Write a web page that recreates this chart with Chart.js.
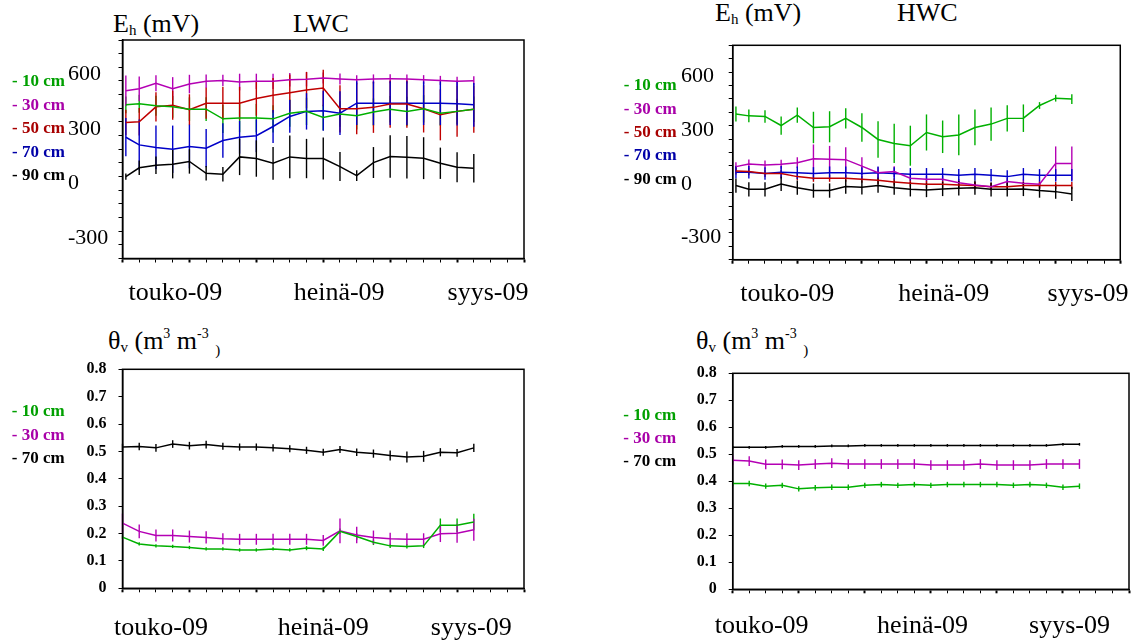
<!DOCTYPE html>
<html>
<head>
<meta charset="utf-8">
<script src="https://cdn.jsdelivr.net/npm/chart.js@4.4.0/dist/chart.umd.min.js"></script>
<style>
  body { margin: 0; background: #fff; width: 1144px; height: 642px; overflow: hidden; position: relative; font-family: "Liberation Serif", "Times New Roman", serif; }
  canvas { position: absolute; }
  .ttl { position: absolute; font-family: "Liberation Serif", serif; font-size: 26px; line-height: 26px; color: #000; white-space: nowrap; }
  .ttl sub { font-size: 15px; vertical-align: -3px; line-height: 0; }
  .ttl sup { font-size: 14px; vertical-align: 11px; line-height: 0; }
  .ttl .paren { font-size: 15px; vertical-align: -6px; }
</style>
</head>
<body>
<div class="ttl" style="left:113px; top:11px">E<sub>h</sub> (mV)</div>
<div class="ttl" style="left:293px; top:11px">LWC</div>
<div class="ttl" style="left:715px; top:0px">E<sub>h</sub> (mV)</div>
<div class="ttl" style="left:897px; top:0px">HWC</div>
<div class="ttl" style="left:108px; top:328px">θ<sub>v</sub> (m<sup>3</sup> m<sup>-3</sup> <span class="paren">)</span></div>
<div class="ttl" style="left:696px; top:328px">θ<sub>v</sub> (m<sup>3</sup> m<sup>-3</sup> <span class="paren">)</span></div>

<canvas id="tl" style="left:-3px; top:0px" width="563" height="320"></canvas>
<canvas id="tr" style="left:609px; top:0px" width="535" height="320"></canvas>
<canvas id="bl" style="left:-3px; top:330px" width="563" height="312"></canvas>
<canvas id="br" style="left:609px; top:330px" width="535" height="312"></canvas>

<script>
// sampling weeks (x axis runs 0..24 weeks, a long tick every 4 weeks)
const weeksEh = [0.2, 1, 2, 3, 4, 5, 6, 7, 8, 9, 10, 11, 12, 13, 14, 15, 16, 17, 18, 19, 20, 21];
const weeksTheta = [0, 1, 2, 3, 4, 5, 6, 7, 8, 9, 10, 11, 12, 13, 14, 15, 16, 17, 18, 19, 20, 21];
const monthLabels = ['touko-09', 'heinä-09', 'syys-09'];
const ehTickLabels = [600, 300, 0, -300];
const depthsEh = ['- 10 cm', '- 30 cm', '- 50 cm', '- 70 cm', '- 90 cm'];
const depthsTheta = ['- 10 cm', '- 30 cm', '- 70 cm'];

// Eh (mV), LWC
const lwc10 = [394, 400, 389, 383, 370, 370, 317, 321, 321, 317, 348, 358, 325, 343, 334, 354, 370, 358, 372, 348, 358, 370];
const lwc30 = [471, 482, 512, 482, 508, 523, 528, 519, 523, 523, 532, 534, 541, 536, 532, 536, 537, 536, 532, 528, 523, 526];
const lwc50 = [297, 301, 383, 392, 367, 403, 403, 403, 429, 446, 460, 475, 486, 372, 372, 380, 398, 398, 372, 339, 358, 370];
const lwc70 = [216, 174, 160, 150, 165, 156, 198, 216, 224, 275, 330, 358, 361, 348, 403, 403, 403, 403, 403, 403, 400, 394];
const lwc90 = [0, 48, 62, 68, 83, 18, 13, 108, 99, 73, 108, 99, 99, 55, 5, 77, 110, 106, 101, 73, 51, 46];
const lwc10Err = [46, 50, 55, 60, 65, 65, 78, 78, 78, 75, 75, 75, 70, 70, 75, 75, 73, 80, 75, 70, 70, 70];
const lwc30Err = [84, 68, 44, 64, 51, 37, 31, 46, 42, 42, 37, 39, 30, 30, 25, 25, 25, 25, 25, 25, 25, 25];
const lwc50Err = [70, 75, 80, 80, 85, 85, 90, 90, 95, 95, 100, 100, 100, 130, 140, 140, 130, 130, 130, 140, 140, 130];
const lwc70Err = [105, 140, 120, 130, 120, 105, 95, 90, 90, 90, 90, 100, 110, 120, 120, 120, 120, 120, 120, 120, 120, 120];
const lwc90Err = [17, 40, 48, 78, 67, 40, 40, 100, 100, 90, 117, 108, 115, 80, 30, 85, 117, 117, 115, 86, 82, 78];

// Eh (mV), HWC
const hwc10 = [365, 355, 352, 301, 359, 290, 294, 341, 290, 223, 201, 188, 262, 238, 248, 290, 309, 341, 342, 413, 454, 449];
const hwc30 = [71, 86, 80, 84, 93, 115, 112, 110, 74, 37, 43, 6, 0, 0, -19, -32, -41, -13, -22, -28, 89, 89];
const hwc50 = [47, 43, 33, 33, 15, 6, 6, 6, 0, -6, -15, -22, -28, -28, -32, -35, -41, -41, -35, -35, -35, -35];
const hwc70 = [39, 39, 33, 39, 37, 33, 37, 37, 33, 37, 33, 28, 28, 28, 22, 28, 22, 15, 28, 22, 22, 22];
const hwc90 = [-35, -56, -56, -26, -47, -63, -63, -41, -45, -35, -47, -56, -60, -54, -50, -47, -56, -56, -54, -63, -69, -82];
const hwc10Err = [42, 35, 35, 51, 43, 88, 87, 56, 80, 102, 110, 112, 101, 91, 114, 100, 93, 74, 77, 19, 19, 27];
const hwc30Err = [25, 25, 25, 25, 30, 80, 75, 70, 50, 30, 30, 25, 20, 20, 20, 20, 20, 20, 20, 20, 95, 95];
const hwc50Err = [20, 20, 20, 20, 20, 20, 20, 20, 20, 20, 20, 20, 20, 20, 20, 20, 20, 20, 20, 20, 20, 20];
const hwc70Err = [35, 35, 35, 35, 35, 35, 35, 35, 35, 35, 35, 35, 35, 35, 35, 35, 35, 35, 35, 35, 35, 35];
const hwc90Err = [40, 40, 40, 40, 40, 40, 40, 40, 40, 40, 40, 40, 40, 40, 40, 40, 40, 40, 40, 40, 40, 40];

// θv (m3 m-3), LWC
const thLwc10 = [0.187, 0.162, 0.155, 0.153, 0.149, 0.144, 0.144, 0.140, 0.140, 0.144, 0.140, 0.147, 0.144, 0.208, 0.189, 0.168, 0.155, 0.153, 0.155, 0.230, 0.230, 0.242];
const thLwc30 = [0.238, 0.208, 0.193, 0.193, 0.189, 0.186, 0.181, 0.179, 0.179, 0.179, 0.179, 0.179, 0.175, 0.210, 0.195, 0.186, 0.181, 0.179, 0.179, 0.199, 0.201, 0.214];
const thLwc70 = [0.516, 0.518, 0.513, 0.527, 0.521, 0.525, 0.519, 0.516, 0.516, 0.513, 0.510, 0.504, 0.497, 0.507, 0.497, 0.492, 0.485, 0.480, 0.482, 0.497, 0.495, 0.513];
const thLwc10Err = [0.006, 0.006, 0.006, 0.006, 0.006, 0.006, 0.006, 0.006, 0.006, 0.006, 0.006, 0.008, 0.008, 0.01, 0.012, 0.01, 0.008, 0.008, 0.008, 0.025, 0.025, 0.03];
const thLwc30Err = [0.035, 0.025, 0.022, 0.022, 0.022, 0.022, 0.02, 0.02, 0.02, 0.02, 0.02, 0.02, 0.02, 0.045, 0.03, 0.025, 0.022, 0.022, 0.022, 0.03, 0.035, 0.04];
const thLwc70Err = [0.012, 0.014, 0.014, 0.014, 0.014, 0.014, 0.013, 0.013, 0.013, 0.013, 0.013, 0.013, 0.013, 0.013, 0.014, 0.015, 0.018, 0.02, 0.02, 0.015, 0.014, 0.015];

// θv (m3 m-3), HWC
const thHwc10 = [0.392, 0.392, 0.382, 0.385, 0.372, 0.376, 0.378, 0.378, 0.385, 0.388, 0.385, 0.388, 0.385, 0.388, 0.388, 0.388, 0.388, 0.385, 0.388, 0.385, 0.378, 0.382];
const thHwc30 = [0.478, 0.475, 0.463, 0.463, 0.460, 0.464, 0.467, 0.464, 0.464, 0.464, 0.464, 0.464, 0.460, 0.460, 0.460, 0.464, 0.460, 0.460, 0.460, 0.464, 0.464, 0.464];
const thHwc70 = [0.526, 0.526, 0.526, 0.529, 0.529, 0.529, 0.531, 0.531, 0.533, 0.533, 0.533, 0.533, 0.533, 0.533, 0.533, 0.533, 0.533, 0.533, 0.533, 0.533, 0.537, 0.537];
const thHwc10Err = [0.01, 0.01, 0.01, 0.01, 0.01, 0.01, 0.01, 0.01, 0.01, 0.01, 0.01, 0.01, 0.01, 0.01, 0.01, 0.01, 0.01, 0.01, 0.01, 0.01, 0.01, 0.01];
const thHwc30Err = [0.018, 0.018, 0.018, 0.018, 0.018, 0.018, 0.018, 0.018, 0.018, 0.018, 0.018, 0.018, 0.018, 0.018, 0.018, 0.018, 0.018, 0.018, 0.018, 0.018, 0.018, 0.018];
const thHwc70Err = [0.005, 0.005, 0.005, 0.005, 0.005, 0.005, 0.005, 0.005, 0.005, 0.005, 0.005, 0.005, 0.005, 0.005, 0.005, 0.005, 0.005, 0.005, 0.005, 0.005, 0.005, 0.005];

// colours per depth: line, legend text
const lineCol = { 10: '#00b000', 30: '#b400b4', 50: '#c00000', 70: '#0000c8', 90: '#000000' };
const textCol = { 10: '#00a000', 30: '#a800a8', 50: '#a80000', 70: '#0000a8', 90: '#000000' };
const serif = '"Liberation Serif", "Times New Roman", serif';

// vertical error bars drawn with the chart's own scales
const errorBars = {
  id: 'errorBars',
  beforeDatasetsDraw(chart) {
    const { ctx, scales: { x, y } } = chart;
    ctx.save();
    chart.data.datasets.forEach(ds => {
      ctx.strokeStyle = ds.borderColor;
      ctx.lineWidth = 1.4;
      ds.data.forEach((p, i) => {
        const e = ds.errors[i];
        const px = x.getPixelForValue(p.x);
        ctx.beginPath();
        ctx.moveTo(px, y.getPixelForValue(p.y - e));
        ctx.lineTo(px, y.getPixelForValue(p.y + e));
        ctx.stroke();
      });
    });
    ctx.restore();
  }
};

// box round the plot area
const frame = {
  id: 'frame',
  afterDraw(chart) {
    const { ctx, chartArea: a } = chart;
    ctx.save();
    ctx.strokeStyle = '#000';
    ctx.lineWidth = 1.5;
    ctx.strokeRect(a.left, a.top, a.right - a.left, a.bottom - a.top);
    ctx.restore();
  }
};

function makeSeries(labels, depths, xs, values, errors) {
  return labels.map((label, i) => ({
    label: label,
    data: values[i].map((v, j) => ({ x: xs[j], y: v })),
    errors: errors[i],
    borderColor: lineCol[depths[i]],
    legendColor: textCol[depths[i]],
    borderWidth: 1.5,
    pointRadius: 0,
    tension: 0,
    fill: false
  }));
}

function makePanel(id, datasets, yScale, p) {
  return new Chart(document.getElementById(id), {
    type: 'line',
    data: { datasets: datasets },
    options: {
      responsive: false,
      animation: false,
      events: [],
      layout: { padding: { left: 0, top: p.top, right: p.right, bottom: 0 } },
      plugins: {
        tooltip: { enabled: false },
        legend: {
          position: 'left',
          align: 'start',
          maxWidth: p.legendW,
          title: { display: true, text: '', font: { size: 10 }, padding: { top: p.legendTop, bottom: 0 } },
          labels: {
            boxWidth: 0,
            boxHeight: 0,
            padding: p.legendGap,
            font: { family: serif, size: 17, weight: 'bold' },
            generateLabels: chart => chart.data.datasets.map((ds, i) => ({
              text: ds.label,
              fontColor: ds.legendColor,
              fillStyle: 'rgba(0,0,0,0)',
              strokeStyle: 'rgba(0,0,0,0)',
              lineWidth: 0,
              hidden: false,
              datasetIndex: i
            }))
          }
        }
      },
      scales: {
        x: {
          type: 'linear', min: 0, max: 24, weight: 0,
          grid: { drawOnChartArea: false, tickLength: 4, tickColor: '#000',
                  tickWidth: c => (c.tick && c.tick.value % 4 === 0) ? 2 : 1 },
          border: { color: '#000', width: 1.5 },
          ticks: { stepSize: 1, display: false },
          afterFit: s => { s.height = 5; }
        },
        xl: {
          type: 'linear', position: 'bottom', min: 0, max: 24, weight: 1,
          grid: { display: false, drawTicks: false },
          border: { display: false },
          afterBuildTicks: s => { s.ticks = p.monthAt.map(v => ({ value: v })); },
          ticks: {
            autoSkip: false, maxRotation: 0, padding: p.labelPad, color: '#000',
            font: { family: serif, size: 26 },
            callback: (v, i) => monthLabels[i]
          },
          afterFit: s => { s.height = p.xlH; }
        },
        y: Object.assign({
          grid: { drawOnChartArea: false, tickLength: 4, tickColor: '#000' },
          border: { color: '#000', width: 1.5 },
          afterFit: s => { s.width = p.yW; }
        }, yScale)
      }
    },
    plugins: [errorBars, frame]
  });
}

const ehAxis = (offset) => ({
  min: -450, max: 750,
  ticks: {
    stepSize: 75, autoSkip: false, crossAlign: 'far', labelOffset: offset, color: '#000',
    font: { family: serif, size: 22 },
    callback: v => ehTickLabels.includes(v) ? String(v) : ''
  }
});

const thetaAxis = {
  min: 0, max: 0.8,
  ticks: {
    stepSize: 0.1, autoSkip: false, padding: 12, color: '#000',
    font: { family: serif, size: 16, weight: 'bold' },
    callback: v => v === 0 ? '0' : v.toFixed(1)
  }
};

makePanel('tl',
  makeSeries(depthsEh, [10, 30, 50, 70, 90], weeksEh,
    [lwc10, lwc30, lwc50, lwc70, lwc90], [lwc10Err, lwc30Err, lwc50Err, lwc70Err, lwc90Err]),
  ehAxis(7),
  { top: 40, right: 36, legendW: 71, yW: 54.5, legendTop: 15, legendGap: 6.5,
    xlH: 56.5, labelPad: 14, monthAt: [3.16, 12.95, 21.85] });

makePanel('tr',
  makeSeries(depthsEh, [10, 30, 50, 70, 90], weeksEh,
    [hwc10, hwc30, hwc50, hwc70, hwc90], [hwc10Err, hwc30Err, hwc50Err, hwc70Err, hwc90Err]),
  ehAxis(4.5),
  { top: 45.3, right: 15, legendW: 72, yW: 51.7, legendTop: 13.9, legendGap: 6.3,
    xlH: 55.3, labelPad: 13.6, monthAt: [3.38, 13.07, 22.0] });

makePanel('bl',
  makeSeries(depthsTheta, [10, 30, 90], weeksTheta,
    [thLwc10, thLwc30, thLwc70], [thLwc10Err, thLwc30Err, thLwc70Err]),
  thetaAxis,
  { top: 39.3, right: 36, legendW: 71, yW: 54.5, legendTop: 15.85, legendGap: 6.35,
    xlH: 48.7, labelPad: 19, monthAt: [2.3, 12.0, 20.85] });

makePanel('br',
  makeSeries(depthsTheta, [10, 30, 90], weeksTheta,
    [thHwc10, thHwc30, thHwc70], [thHwc10Err, thHwc30Err, thHwc70Err]),
  thetaAxis,
  { top: 43.3, right: 15, legendW: 72, yW: 51.7, legendTop: 16.35, legendGap: 5.85,
    xlH: 47.7, labelPad: 16.3, monthAt: [1.75, 11.5, 20.4] });
</script>
</body>
</html>
